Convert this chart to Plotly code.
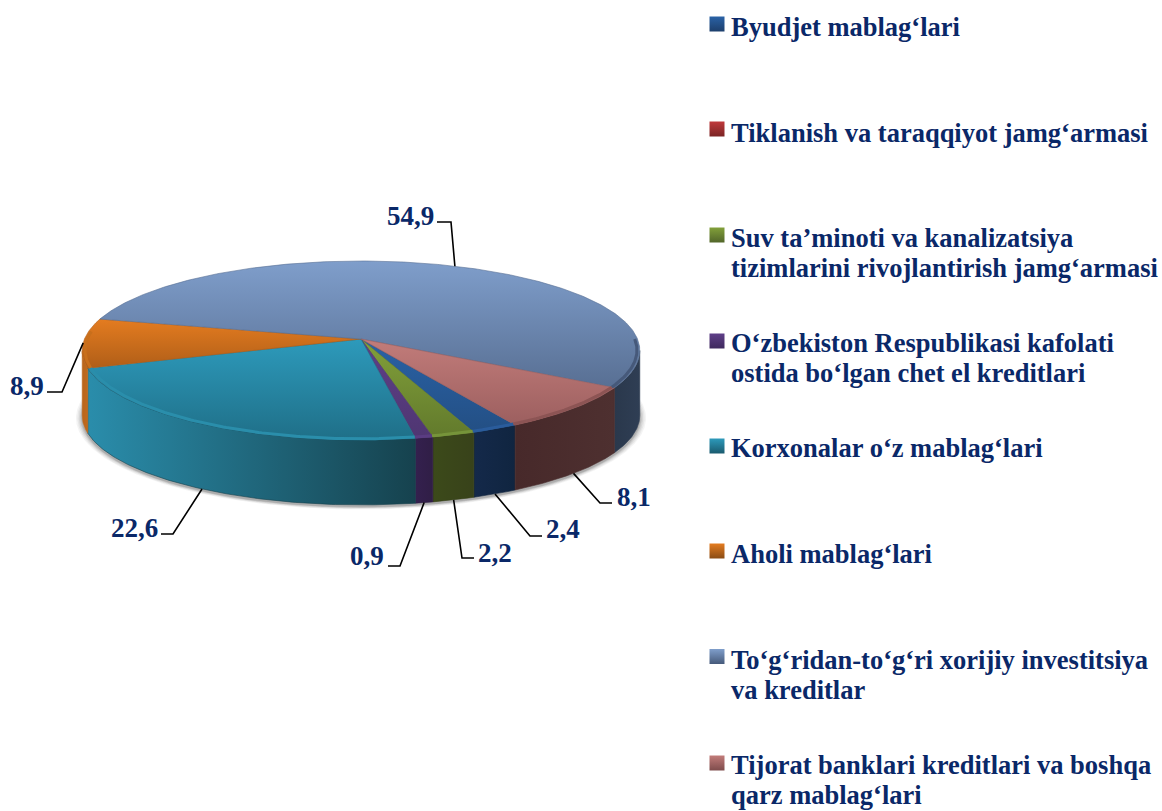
import numpy as np
import plotly.graph_objects as go

# ---- data ----
CATEGORIES = [
    ["Byudjet mablag‘lari"],
    ["Tiklanish va taraqqiyot jamg‘armasi"],
    ["Suv ta’minoti va kanalizatsiya", "tizimlarini rivojlantirish jamg‘armasi"],
    ["O‘zbekiston Respublikasi kafolati", "ostida bo‘lgan chet el kreditlari"],
    ["Korxonalar o‘z mablag‘lari"],
    ["Aholi mablag‘lari"],
    ["To‘g‘ridan-to‘g‘ri xorijiy investitsiya", "va kreditlar"],
    ["Tijorat banklari kreditlari va boshqa", "qarz mablag‘lari"],
]
VALUES = [2.4, 0.0, 2.2, 0.9, 22.6, 8.9, 54.9, 8.1]
VALUE_TEXT = ["2,4", "", "2,2", "0,9", "22,6", "8,9", "54,9", "8,1"]

# ---- style ----
TOP_GRAD = ["#2a62a6", "#c0393b", "#82a03a", "#5f3f88", "#2d9abb", "#e47c20", "#7f9ecb", "#c27c7a"]
TOP_GRAD2 = ["#234f84", "#8f2a2a", "#627a2c", "#4f3672", "#1f6f88", "#b05e18", "#586f93", "#9c5f5f"]
WALL_L = ["#14294a", "#5a1f1f", "#3c4a1a", "#34204e", "#2a8dab", "#b8651c", "#2a384c", "#47292a"]
WALL_R = ["#102540", "#5a1f1f", "#38421a", "#301e46", "#16424e", "#c06a1c", "#2f3e54", "#4e3030"]
RIM = ["#2a5c9c", "#aa3333", "#76943a", "#5a3c82", "#2a8eab", "#c86f1c", "#46597a", "#8c5454"]
KEY_DARK = ["#1d3f6c", "#7a2424", "#52662a", "#3f2a5e", "#1a5a6e", "#8a4c14", "#465a7a", "#7e4c4c"]
TEXT = "#0a2868"
FONT = "Liberation Serif"

# ---- layout geometry (pixels of the page) ----
W, H = 1162, 811
CX, CY, RX, RY, K = 361.0, 339.0, 276.5, 88.0, 0.128
DEPTH = 65.0
START = 150.3
VIS_R, VIS_L = 97.4, 262.6
LEADER = {0: [(530, 536), (542, 536)], 2: [(462, 558), (474, 558)], 3: [(400, 566), (388, 566)],
          4: [(173, 534), (161, 534)], 5: [(62, 392), (47, 392)], 6: [(451, 222), (437, 222)],
          7: [(600, 503), (612, 503)]}
LABEL_POS = {0: (563, 529), 2: (495, 553), 3: (367, 556), 4: (134, 528), 5: (27, 386), 6: (410, 216), 7: (634, 497)}
LEGEND_Y = [27, 133, 238, 343, 448, 554, 660, 765]
LEGEND_MARK_Y = [24, 129, 235, 341, 446, 551, 656.5, 763]
LINE_GAP = 29.5


def proj(theta_deg, scale=1.0, dy=0.0):
    t = np.radians(theta_deg)
    u, v = np.sin(t) * scale, np.cos(t) * scale
    w = 1 + K * v
    return CX + RX * u / w, CY - RY * v / w + dy


def arc(a0, a1, dy=0.0, scale=1.0):
    n = max(2, int(abs(a1 - a0) * 1.5) + 2)
    return proj(np.linspace(a0, a1, n), scale, dy)


fig = go.Figure()


def poly(x, y, c0=None, c1=None, horizontal=False, solid=None, line=None):
    kw = dict(x=list(x), y=list(y), mode="lines", fill="toself", hoverinfo="skip", showlegend=False)
    if solid:
        kw["fillcolor"] = solid
        kw["line"] = dict(width=0, color=solid)
    else:
        kw["fillgradient"] = dict(
            type="horizontal" if horizontal else "vertical",
            colorscale=[[0, c1 if not horizontal else c0], [1, c0 if not horizontal else c1]],
        )
        kw["line"] = dict(width=0.6, color=line or c0)
    fig.add_trace(go.Scatter(**kw))


# soft shadow under the pie
for s, a in [(1.022, 0.05), (1.017, 0.06), (1.012, 0.08), (1.007, 0.11), (1.003, 0.14)]:
    x, y = arc(0, 360, dy=DEPTH + 2, scale=s)
    poly(x, y, solid=f"rgba(40,40,40,{a})")

# slice angles, clockwise from north
fracs = np.array(VALUES) / sum(VALUES) * 360
starts = START + np.concatenate([[0], np.cumsum(fracs)[:-1]])
ends = starts + fracs

# side walls
for i in range(len(VALUES)):
    if VALUES[i] == 0:
        continue
    a0, a1 = starts[i], ends[i]
    for shift in (0, 360, -360):
        b0, b1 = max(a0 + shift, VIS_R), min(a1 + shift, VIS_L)
        if b1 > b0:
            xt, yt = arc(b0, b1)
            xb, yb = arc(b1, b0, dy=DEPTH)
            poly(np.r_[xt, xb, xt[0]], np.r_[yt, yb, yt[0]], WALL_L[i], WALL_R[i], horizontal=True,
                 line=WALL_R[i])

# top faces
for i in range(len(VALUES)):
    if VALUES[i] == 0:
        continue
    xa, ya = arc(starts[i], ends[i])
    poly(np.r_[CX, xa, CX], np.r_[CY, ya, CY], TOP_GRAD[i], TOP_GRAD2[i], line=TOP_GRAD2[i])

# bevel along the front rim
for i in range(len(VALUES)):
    if VALUES[i] == 0:
        continue
    for shift in (0, 360, -360):
        b0, b1 = max(starts[i] + shift, 90), min(ends[i] + shift, 275)
        if b1 > b0:
            xa, ya = arc(b0, b1, scale=0.99)
            fig.add_trace(go.Scatter(x=xa, y=ya, mode="lines", hoverinfo="skip", showlegend=False,
                                     line=dict(color=RIM[i], width=3)))

# leader lines, starting on the pie at each slice's middle angle
for i, pts in LEADER.items():
    mid = (starts[i] + ends[i]) / 2
    m = mid % 360
    front = VIS_R < m < VIS_L
    x0, y0 = proj(mid, 1.0, DEPTH if front else 0.0)
    fig.add_trace(go.Scatter(x=[float(x0)] + [p[0] for p in pts], y=[float(y0)] + [p[1] for p in pts],
                             mode="lines", hoverinfo="skip", showlegend=False,
                             line=dict(color="#000000", width=1.6)))
    fig.add_annotation(x=LABEL_POS[i][0], y=LABEL_POS[i][1], text=f"<b>{VALUE_TEXT[i]}</b>", showarrow=False,
                       xref="x", yref="y", xanchor="center", yanchor="middle",
                       font=dict(family=FONT, size=27, color=TEXT))

# legend keys and labels
fig.add_trace(go.Scatter(
    x=[717] * len(CATEGORIES), y=LEGEND_MARK_Y, mode="markers", hoverinfo="skip", showlegend=False,
    marker=dict(symbol="square", size=15, color=TOP_GRAD,
                gradient=dict(type="vertical", color=KEY_DARK),
                line=dict(width=0)),
))
for i, lines in enumerate(CATEGORIES):
    for j, t in enumerate(lines):
        fig.add_annotation(x=729, y=LEGEND_Y[i] + j * LINE_GAP, text=f"<b>{t}</b>", showarrow=False,
                           xref="x", yref="y", xanchor="left", yanchor="middle",
                           font=dict(family=FONT, size=26.5, color=TEXT))

fig.update_layout(
    width=W, height=H, margin=dict(l=0, r=0, t=0, b=0),
    paper_bgcolor="white", plot_bgcolor="white", showlegend=False,
    xaxis=dict(range=[0, W], visible=False, fixedrange=True),
    yaxis=dict(range=[H, 0], visible=False, fixedrange=True),
)
fig.write_html("out.html", config={"displayModeBar": False},
               post_script="document.body.style.margin='0';document.body.style.overflow='hidden';")
